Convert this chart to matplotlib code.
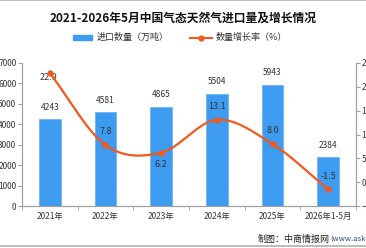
import matplotlib
matplotlib.use('Agg')
import matplotlib.pyplot as plt
import numpy as np
from matplotlib.patches import Rectangle
from matplotlib.lines import Line2D

plt.rcParams['font.family'] = ['Noto Sans CJK SC', 'DejaVu Sans']

# 数据
years = ['2021年', '2022年', '2023年', '2024年', '2025年', '2026年1-5月']
volume = [4243, 4581, 4865, 5504, 5943, 2384]
growth = [22.9, 7.8, 6.2, 13.1, 8.0, -1.5]
growth_pos = ['center', 'top', 'bottom', 'top', 'top', 'top']

bar_color = '#3d9bf0'
line_color = '#f4581c'
axis_color = '#a0a0a0'
text_color = '#333333'

# 平滑曲线（Catmull-Rom 样条）
def smooth(xs, ys, n=30):
    xs = np.asarray(xs, float)
    ys = np.asarray(ys, float)
    m = np.zeros_like(ys)
    m[1:-1] = (ys[2:] - ys[:-2]) / (xs[2:] - xs[:-2])
    m[0] = (ys[1] - ys[0]) / (xs[1] - xs[0])
    m[-1] = (ys[-1] - ys[-2]) / (xs[-1] - xs[-2])
    ox, oy = [], []
    for i in range(len(xs) - 1):
        h = xs[i + 1] - xs[i]
        t = np.linspace(0, 1, n)
        h00 = 2 * t**3 - 3 * t**2 + 1
        h10 = t**3 - 2 * t**2 + t
        h01 = -2 * t**3 + 3 * t**2
        h11 = t**3 - t**2
        ox.extend(xs[i] + t * h)
        oy.extend(h00 * ys[i] + h10 * h * m[i] + h01 * ys[i + 1] + h11 * h * m[i + 1])
    return np.array(ox), np.array(oy)

fig = plt.figure(figsize=(3.66, 2.48), dpi=100)
ax = fig.add_axes([0.060, 0.169, 0.913, 0.577])
ax2 = ax.twinx()

x = np.arange(len(years))
ax.bar(x, volume, width=0.39, color=bar_color, edgecolor='#6fb6f5', linewidth=0.6, zorder=2)
for xi, v in zip(x, volume):
    ax.text(xi, v + 380, str(v), ha='center', va='bottom', fontsize=6, color=text_color)

ax.set_xlim(-0.5, len(years) - 0.5)
ax.set_ylim(0, 7000)
ax.set_yticks(np.arange(0, 7001, 1000))
ax.set_xticks(x)
ax.set_xticklabels(years, fontsize=6, color=text_color)
ax.set_xticks(np.arange(-0.5, len(years), 1), minor=True)
ax.tick_params(axis='x', which='major', length=0, pad=4)
ax.tick_params(axis='x', which='minor', length=3, color=axis_color)
ax.tick_params(axis='y', length=3, color=axis_color, labelsize=6, labelcolor=text_color, pad=1)

ax2.set_ylim(-5, 25)
ax2.set_yticks(np.arange(-5, 26, 5))
ax2.tick_params(axis='y', length=3, color=axis_color, labelsize=6, labelcolor=text_color, pad=1)

for a in (ax, ax2):
    for s in a.spines.values():
        s.set_color(axis_color)
        s.set_linewidth(0.8)
    a.spines['top'].set_visible(False)

sx, sy = smooth(x, growth)
ax2.plot(sx, sy, color=line_color, linewidth=1.6, zorder=4)
ax2.plot(x, growth, 'o', color=line_color, markersize=3.5, zorder=5)
for xi, g, p in zip(x, growth, growth_pos):
    if p == 'top':
        ax2.text(xi, g + 1.8, f'{g:.1f}', ha='center', va='bottom', fontsize=6.5, color=text_color, zorder=6)
    elif p == 'bottom':
        ax2.text(xi, g - 1.6, f'{g:.1f}', ha='center', va='top', fontsize=6.5, color=text_color, zorder=6)
    else:
        ax2.text(xi - 0.03, g - 1.0, f'{g:.1f}', ha='center', va='center', fontsize=6.5, color=text_color, zorder=3)

# 标题
fig.text(0.5, 0.925, '2021-2026年5月中国气态天然气进口量及增长情况', ha='center', va='center',
         fontsize=8.5, fontweight='bold', color='#111111')

# 图例
fig.patches.append(Rectangle((73 / 366, 1 - 40 / 248), 19 / 366, 5 / 248, transform=fig.transFigure,
                             color=bar_color, figure=fig))
fig.text(97 / 366, 1 - 37.5 / 248, '进口数量（万吨）', ha='left', va='center', fontsize=6.5, color=text_color)
fig.lines.append(Line2D([190 / 366, 212 / 366], [1 - 37.5 / 248] * 2, transform=fig.transFigure,
                        color=line_color, linewidth=1.5, figure=fig))
fig.lines.append(Line2D([201 / 366], [1 - 37.5 / 248], transform=fig.transFigure, marker='o',
                        markersize=3.5, color=line_color, figure=fig))
fig.text(216 / 366, 1 - 37.5 / 248, '数量增长率（%）', ha='left', va='center', fontsize=6.5, color=text_color)

# 来源
fig.text(258 / 366, 1 - 239 / 248, '制图：中商情报网', ha='left', va='center', fontsize=6.5, color='#222222')
fig.text(330 / 366, 1 - 239 / 248, '(www.askci.com)', ha='left', va='center', fontsize=5.5, color='#2a4a8a')

# 上下分隔线
fig.lines.append(Line2D([0, 1], [0.998, 0.998], transform=fig.transFigure, color='#b0b0b0', linewidth=1.2, figure=fig))
fig.lines.append(Line2D([0, 1], [1 - 246 / 248] * 2, transform=fig.transFigure, color='#b0b0b0', linewidth=1.2, figure=fig))

fig.savefig('out.png', dpi=100)
